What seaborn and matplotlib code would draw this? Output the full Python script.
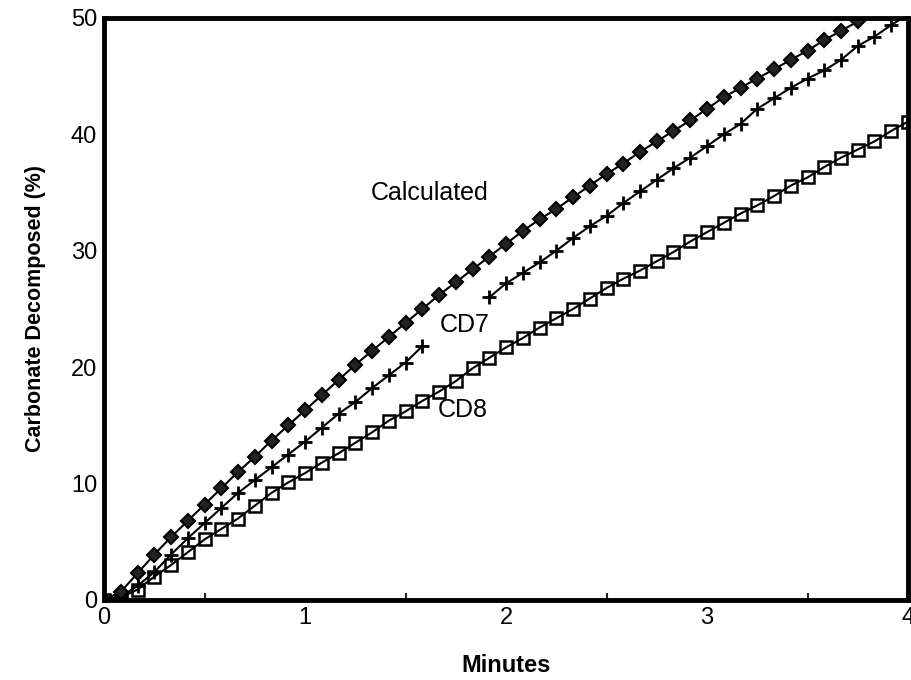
import numpy as np
import pandas as pd
import matplotlib
matplotlib.use("Agg")
import matplotlib.pyplot as plt
from matplotlib.ticker import MultipleLocator
import seaborn as sns

# Samples are taken every 5 seconds (1/12 minute)
STEP = 1.0 / 12.0

calculated = [0, 0.7, 2.3, 3.9, 5.4, 6.8, 8.2, 9.6, 11.0, 12.3, 13.7, 15.0, 16.3,
              17.6, 18.9, 20.2, 21.4, 22.6, 23.8, 25.0, 26.2, 27.3, 28.4, 29.5,
              30.6, 31.7, 32.7, 33.6, 34.6, 35.6, 36.6, 37.5, 38.5, 39.4, 40.3,
              41.2, 42.2, 43.2, 44.0, 44.8, 45.6, 46.4, 47.2, 48.1, 48.9, 49.7]

# CD7 has a gap in the record between ~1.6 and ~1.9 min
cd7_first_start = 0
cd7_first = [0, 0.3, 1.2, 2.4, 3.9, 5.3, 6.6, 7.9, 9.2, 10.3, 11.4, 12.5, 13.6,
             14.8, 16.0, 17.0, 18.2, 19.3, 20.4, 21.8]
cd7_second_start = 23
cd7_second = [26.0, 27.2, 28.1, 29.0, 30.0, 31.1, 32.1, 33.0, 34.1, 35.1, 36.1,
              37.1, 38.0, 39.0, 40.0, 40.9, 42.2, 43.1, 44.0, 44.8, 45.5, 46.4,
              47.6, 48.4, 49.4, 50.3]

cd8 = [0, 0.2, 0.9, 2.0, 3.0, 4.1, 5.2, 6.1, 7.0, 8.1, 9.2, 10.1, 10.9,
       11.8, 12.6, 13.5, 14.4, 15.4, 16.2, 17.1, 17.9, 18.8, 19.9, 20.8, 21.7,
       22.5, 23.4, 24.2, 25.0, 25.9, 26.8, 27.6, 28.3, 29.1, 29.9, 30.8, 31.6,
       32.4, 33.2, 33.9, 34.7, 35.6, 36.3, 37.2, 38.0, 38.7, 39.4, 40.3, 41.1]

x_ticks = [0, 1, 2, 3, 4]
y_ticks = [0, 10, 20, 30, 40, 50]


def series(values, start=0):
    t = (np.arange(len(values)) + start) * STEP
    return pd.DataFrame({"Minutes": t, "Value": values})


sns.set_theme(style="white")
plt.rcParams["font.family"] = ["Liberation Sans", "DejaVu Sans"]
plt.rcParams["text.color"] = "black"
plt.rcParams["axes.labelcolor"] = "black"

fig = plt.figure(figsize=(9.11, 6.8), dpi=100)
ax = fig.add_axes([104 / 911, 80 / 680, 804 / 911, 582 / 680])

line_kw = dict(x="Minutes", y="Value", ax=ax, estimator=None, sort=False,
               color="black", linewidth=1.5, legend=False)

sns.lineplot(data=series(cd8), marker="s", markersize=9,
             markerfacecolor="none", markeredgecolor="black",
             markeredgewidth=1.8, **line_kw)
sns.lineplot(data=series(cd7_first, cd7_first_start), marker="+",
             markersize=10, markeredgewidth=2.0, markeredgecolor="black",
             **line_kw)
sns.lineplot(data=series(cd7_second, cd7_second_start), marker="+",
             markersize=10, markeredgewidth=2.0, markeredgecolor="black",
             **line_kw)
sns.lineplot(data=series(calculated), marker="D", markersize=7.5,
             markerfacecolor="#222222", markeredgecolor="black",
             markeredgewidth=1.5, **line_kw)

ax.text(1.62, 35.0, "Calculated", fontsize=18, ha="center", va="center")
ax.text(1.795, 23.6, "CD7", fontsize=18, ha="center", va="center")
ax.text(1.785, 16.3, "CD8", fontsize=18, ha="center", va="center")

ax.set_xlim(0, 4)
ax.set_ylim(0, 50)
ax.set_xticks(x_ticks)
ax.set_yticks(y_ticks)
ax.xaxis.set_minor_locator(MultipleLocator(0.5))
ax.tick_params(axis="both", which="major", direction="in", length=10,
               width=1.8, labelsize=17, colors="black", pad=5)
ax.tick_params(axis="x", which="minor", direction="in", length=5, width=1.5,
               bottom=True)

for side in ax.spines.values():
    side.set_linewidth(3.5)
    side.set_color("black")

ax.set_xlabel("Minutes", fontsize=17, fontweight="bold", labelpad=18)
ax.set_ylabel("Carbonate Decomposed (%)", fontsize=15.5, fontweight="bold",
              labelpad=18)

fig.savefig("out.png", dpi=100)
